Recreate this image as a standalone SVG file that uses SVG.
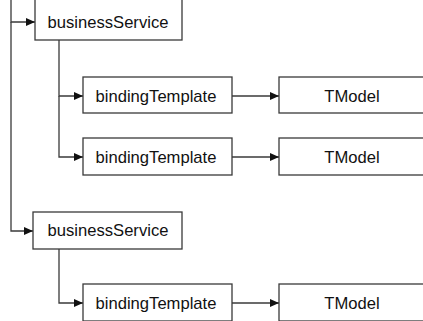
<svg xmlns="http://www.w3.org/2000/svg" width="423" height="321" viewBox="0 0 423 321">
<style>
.box{fill:#fff;stroke:#3a3a3a;stroke-width:1.3}
.lbl{font-family:"Liberation Sans",Arial,sans-serif;font-size:16.6px;fill:#111;text-anchor:middle}
.ln{fill:none;stroke:#3a3a3a;stroke-width:1.3}
</style>
<defs>
<marker id="ah" markerWidth="9" markerHeight="8" refX="9" refY="4" orient="auto" markerUnits="userSpaceOnUse">
<path d="M0,0 L9,4 L0,8 z" fill="#111"/>
</marker>
</defs>
<rect width="423" height="321" fill="#fff"/>
<g id="connectors">
<path class="ln" d="M11,0 V22 H35" marker-end="url(#ah)"/>
<path class="ln" d="M11,22 V231 H33" marker-end="url(#ah)"/>
<path class="ln" d="M59,40 V96 H83" marker-end="url(#ah)"/>
<path class="ln" d="M59,96 V157 H83" marker-end="url(#ah)"/>
<path class="ln" d="M59,249 V303 H83" marker-end="url(#ah)"/>
<path class="ln" d="M232,96 H279" marker-end="url(#ah)"/>
<path class="ln" d="M232,157 H279" marker-end="url(#ah)"/>
<path class="ln" d="M232,303 H279" marker-end="url(#ah)"/>
</g>
<g id="bs1"><rect class="box" x="35" y="-6" width="147" height="46"/><text class="lbl" x="108" y="28">businessService</text></g>
<g id="bt1"><rect class="box" x="83" y="77" width="149" height="36"/><text class="lbl" x="156" y="101.5">bindingTemplate</text></g>
<g id="tm1"><rect class="box" x="279" y="77" width="146" height="36"/><text class="lbl" x="352" y="101.5">TModel</text></g>
<g id="bt2"><rect class="box" x="83" y="138" width="149" height="37"/><text class="lbl" x="156" y="162.5">bindingTemplate</text></g>
<g id="tm2"><rect class="box" x="279" y="138" width="146" height="37"/><text class="lbl" x="352" y="162.5">TModel</text></g>
<g id="bs2"><rect class="box" x="33" y="212" width="149" height="37"/><text class="lbl" x="108" y="236">businessService</text></g>
<g id="bt3"><rect class="box" x="83" y="284" width="149" height="37"/><text class="lbl" x="156" y="308.5">bindingTemplate</text></g>
<g id="tm3"><rect class="box" x="279" y="284" width="146" height="37"/><text class="lbl" x="352" y="308.5">TModel</text></g>
</svg>
